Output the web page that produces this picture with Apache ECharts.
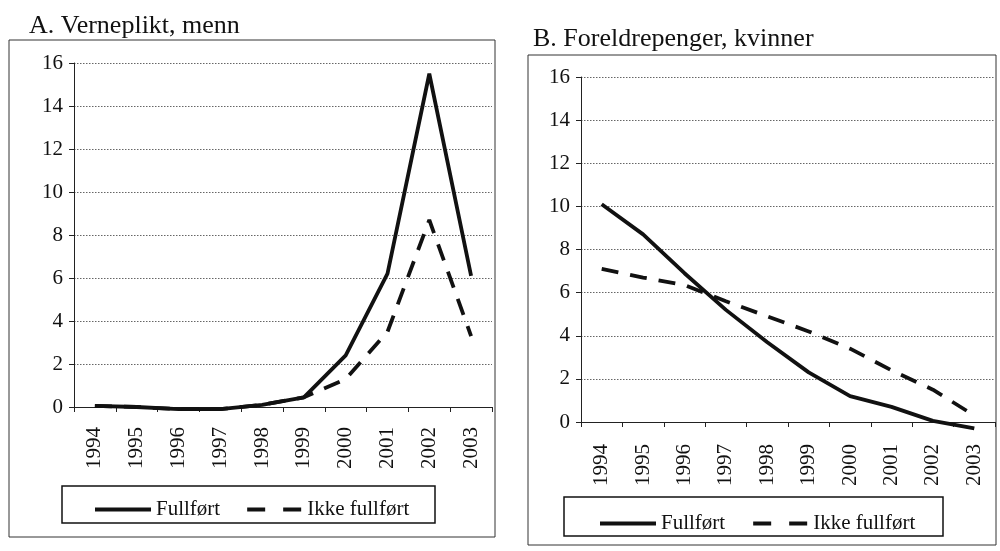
<!DOCTYPE html>
<html>
<head>
<meta charset="utf-8">
<script src="https://cdn.jsdelivr.net/npm/echarts@6/dist/echarts.min.js"></script>
<style>html,body{margin:0;padding:0;background:#fff;}#c{width:1000px;height:551px;}</style>
</head>
<body>
<div id="c"></div>
<script>
const years = ['1994','1995','1996','1997','1998','1999','2000','2001','2002','2003'];
const yTicks = { min: 0, max: 16, interval: 2 };
const titleA = 'A. Verneplikt, menn';
const titleB = 'B. Foreldrepenger, kvinner';
const seriesNames = ['Fullført', 'Ikke fullført'];
const aFullfort = [0.05, 0.0, -0.1, -0.1, 0.1, 0.45, 2.4, 6.2, 15.5, 6.1];
const aIkke     = [0.05, 0.0, -0.1, -0.1, 0.1, 0.45, 1.3, 3.5, 8.7, 3.3];
const bFullfort = [10.1, 8.7, 6.9, 5.2, 3.7, 2.3, 1.2, 0.7, 0.05, -0.3];
const bIkke     = [7.1, 6.7, 6.35, 5.6, 4.9, 4.2, 3.4, 2.4, 1.5, 0.3];

const FONT = 'Liberation Serif';
const chart = echarts.init(document.getElementById('c'), null, { renderer: 'canvas' });

function xAxis(gi, margin) {
  return {
    type: 'category', gridIndex: gi, data: years, boundaryGap: true,
    axisLine: { show: true, lineStyle: { color: '#222', width: 1 } },
    axisTick: { show: true, length: 5, lineStyle: { color: '#222' } },
    axisLabel: { rotate: 90, fontSize: 21, color: '#111', fontFamily: FONT, margin: margin },
    splitLine: { show: false }
  };
}
function yAxis(gi) {
  return {
    type: 'value', gridIndex: gi, min: yTicks.min, max: yTicks.max, interval: yTicks.interval,
    axisLine: { show: true, lineStyle: { color: '#222', width: 1 } },
    axisTick: { show: true, length: 5, lineStyle: { color: '#222' } },
    axisLabel: { fontSize: 21, color: '#111', fontFamily: FONT, margin: 11 },
    splitLine: { show: true, lineStyle: { color: '#666', width: 1, type: [1.5, 1.5] } }
  };
}
function line(name, data, gi, dashed) {
  return {
    name: name, type: 'line', xAxisIndex: gi, yAxisIndex: gi, data: data,
    showSymbol: false, symbol: 'none', clip: false,
    lineStyle: { color: '#111', width: 3.8, type: dashed ? [17, 12] : 'solid' },
    itemStyle: { color: '#111' }
  };
}
function legend(left, top, gap) {
  return {
    left: left, top: top, itemWidth: 56, itemHeight: 4, itemGap: gap,
    selectedMode: false,
    data: [
      { name: seriesNames[0], icon: 'rect' },
      { name: seriesNames[1], icon: 'path://M0,0h18v4h-18z M36,0h18v4h-18z' }
    ],
    itemStyle: { color: '#111' },
    textStyle: { fontSize: 21, color: '#111', fontFamily: FONT, padding: [0, 0, 0, 0] }
  };
}

chart.setOption({
  animation: false,
  backgroundColor: '#fff',
  title: [
    { text: titleA, left: 24, top: 8, textStyle: { fontSize: 26, fontWeight: 'normal', color: '#111', fontFamily: FONT } },
    { text: titleB, left: 528, top: 21, textStyle: { fontSize: 26, fontWeight: 'normal', color: '#111', fontFamily: FONT } }
  ],
  grid: [
    { left: 74, right: 508, top: 63, bottom: 144 },
    { left: 581, right: 5, top: 77, bottom: 129 }
  ],
  xAxis: [xAxis(0, 20), xAxis(1, 22)],
  yAxis: [yAxis(0), yAxis(1)],
  legend: [legend(90, 494, 27), legend(595, 508, 28)],
  series: [
    line(seriesNames[0], aFullfort, 0, false),
    line(seriesNames[1], aIkke, 0, true),
    line(seriesNames[0], bFullfort, 1, false),
    line(seriesNames[1], bIkke, 1, true)
  ],
  graphic: [
    { type: 'rect', shape: { x: 9, y: 40, width: 486, height: 497 }, style: { fill: 'none', stroke: '#333', lineWidth: 1 }, silent: true },
    { type: 'rect', shape: { x: 528, y: 55, width: 468, height: 490 }, style: { fill: 'none', stroke: '#333', lineWidth: 1 }, silent: true },
    { type: 'rect', shape: { x: 62, y: 486, width: 373, height: 37 }, style: { fill: 'none', stroke: '#111', lineWidth: 1.5 }, silent: true },
    { type: 'rect', shape: { x: 564, y: 497, width: 379, height: 39 }, style: { fill: 'none', stroke: '#111', lineWidth: 1.5 }, silent: true }
  ]
});
</script>
</body>
</html>
